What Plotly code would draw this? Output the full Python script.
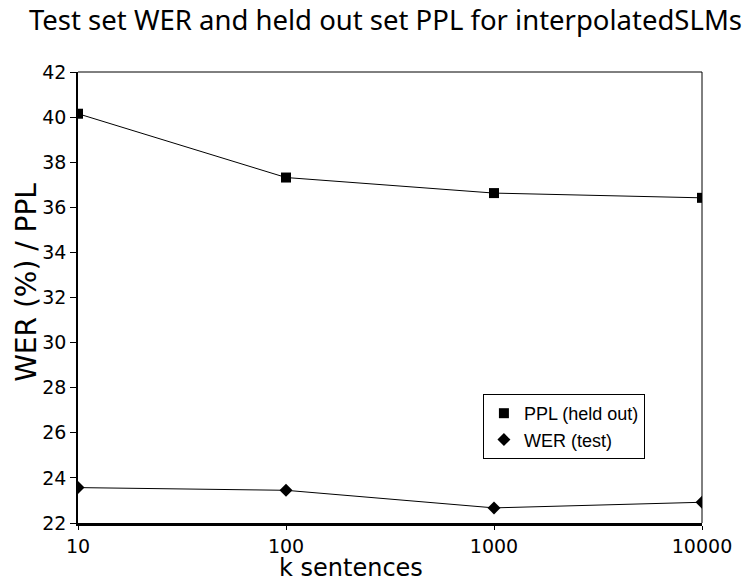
import plotly.graph_objects as go

k_sentences = [10, 100, 1000, 10000]
ppl_held_out = [40.15, 37.32, 36.63, 36.42]
wer_test = [23.57, 23.45, 22.67, 22.92]
y_ticks = [22, 24, 26, 28, 30, 32, 34, 36, 38, 40, 42]
x_ticks = [10, 100, 1000, 10000]

FONT = "DejaVu Sans"

fig = go.Figure()
# connecting lines (no legend entries)
fig.add_trace(go.Scatter(x=k_sentences, y=ppl_held_out, mode="lines",
                         line=dict(color="black", width=1), showlegend=False, hoverinfo="skip"))
fig.add_trace(go.Scatter(x=k_sentences, y=wer_test, mode="lines",
                         line=dict(color="black", width=1), showlegend=False, hoverinfo="skip"))
# markers with legend entries
fig.add_trace(go.Scatter(x=k_sentences, y=ppl_held_out, mode="markers", name="PPL (held out)",
                         marker=dict(symbol="square", size=10, color="black")))
fig.add_trace(go.Scatter(x=k_sentences, y=wer_test, mode="markers", name="WER (test)",
                         marker=dict(symbol="diamond", size=10, color="black")))

fig.update_layout(
    width=744, height=584,
    margin=dict(l=78, r=32, t=72, b=61),
    paper_bgcolor="white", plot_bgcolor="white",
    font=dict(family=FONT, color="black"),
    title=dict(text="Test set WER and held out set PPL for interpolatedSLMs",
               font=dict(family="Noto Sans", size=27.5, color="black"),
               xref="container", x=385.5 / 744, xanchor="center",
               yref="container", y=1 - 20 / 584, yanchor="middle"),
    xaxis=dict(type="log", range=[1, 4], tickvals=x_ticks, ticktext=[str(v) for v in x_ticks],
               showline=True, linecolor="black", linewidth=2.5, mirror=False,
               ticks="outside", ticklen=4, tickcolor="black", showgrid=False, zeroline=False,
               tickfont=dict(family=FONT, size=19, color="black")),
    yaxis=dict(range=[22, 42], tickvals=y_ticks,
               showline=True, linecolor="black", linewidth=1.5, mirror=False,
               ticks="outside", ticklen=6, tickcolor="black", showgrid=False, zeroline=False,
               tickfont=dict(family=FONT, size=19, color="black")),
    legend=dict(x=(654 - 78) / 634, y=(523 - 394) / 451, xanchor="right", yanchor="top",
                bordercolor="black", borderwidth=1, bgcolor="white",
                font=dict(family="Liberation Sans", size=18, color="black"),
                itemwidth=30, tracegroupgap=0),
    annotations=[
        dict(text="WER (%) / PPL", xref="paper", yref="paper", x=(25 - 78) / 634, y=(523 - 282) / 451,
             xanchor="center", yanchor="middle", textangle=-90, showarrow=False,
             font=dict(family=FONT, size=28, color="black")),
        dict(text="k sentences", xref="paper", yref="paper", x=(355 - 78) / 634, y=(523 - 568) / 451,
             xanchor="center", yanchor="middle", showarrow=False,
             font=dict(family=FONT, size=24, color="black")),
    ],
    shapes=[
        dict(type="line", xref="paper", yref="paper", x0=0, x1=1, y0=1, y1=1,
             line=dict(color="black", width=1)),
        dict(type="line", xref="paper", yref="paper", x0=1, x1=1, y0=0, y1=1,
             line=dict(color="black", width=1)),
    ],
)

fig.write_html("out.html", config={"displayModeBar": False},
               post_script="document.body.style.margin='0';document.body.style.overflow='hidden';")
